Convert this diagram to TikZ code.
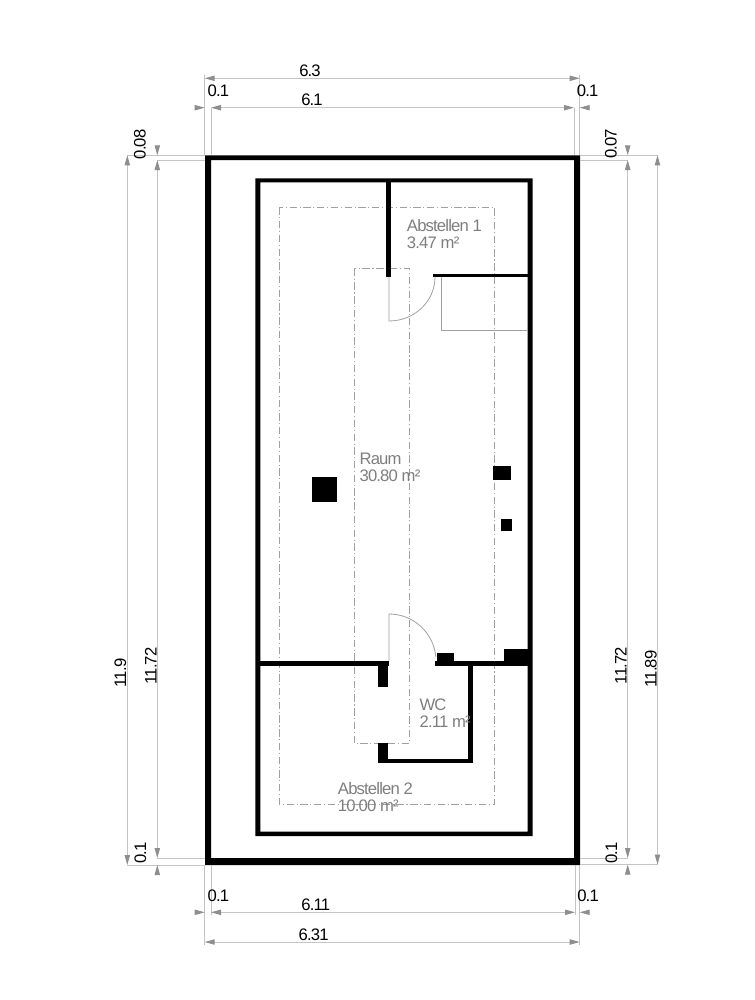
\documentclass[tikz,border=0pt]{standalone}
\usepackage{fontspec}
\setmainfont[LetterSpace=-5]{Liberation Sans}
\usetikzlibrary{arrows.meta}
\definecolor{dimline}{HTML}{C4C4C4}
\definecolor{dimtip}{HTML}{8E8E8E}
\definecolor{planline}{HTML}{A0A0A0}
\definecolor{roomtext}{HTML}{7E7E7E}

\begin{document}
\begin{tikzpicture}[x=0.75pt, y=-0.75pt,
    >={Triangle[length=7.5pt,width=4pt,color=dimtip]}]
\tikzstyle{wall} = [fill=black, even odd rule]
\tikzstyle{thin} = [draw=planline, line width=0.6pt]
\tikzstyle{axis} = [draw=planline, line width=0.5pt,
  dash pattern=on 5.5pt off 2pt on 0.8pt off 2pt]
\tikzstyle{dim} = [draw=dimline, line width=0.7pt]
\tikzstyle{dimlabel} = [inner sep=0pt, anchor=base,
  font=\fontsize{12.5}{14}\selectfont]
\tikzstyle{dimlabelleft} = [dimlabel, anchor=base west]
\tikzstyle{dimlabelup} = [dimlabel, rotate=90]
\tikzstyle{room} = [inner sep=0pt, anchor=north west, align=left,
  text=roomtext, font=\fontsize{12.5}{12.75}\selectfont]

\useasboundingbox (0,0) rectangle (755,1000);

% plan axes
\draw[axis] (279,207.3) rectangle (494.7,804);
\draw[axis] (354.3,268.7) rectangle (409.3,743.3);

% walls
\fill[wall] (205,155.3) rectangle (580,865) (211,160) rectangle (574,858);
\fill[wall] (255.3,178.3) rectangle (532.7,836) (260.3,182.3) rectangle (527.7,831.7);
\fill[wall] (386,182) rectangle (391,276.7);
\fill[wall] (433,273.7) rectangle (528,277);
\fill[wall] (260,661.3) rectangle (388.7,666);
\fill[wall] (435,661.3) rectangle (528,666);
\fill[wall] (436.7,653.3) rectangle (454,666);
\fill[wall] (504,648.7) rectangle (528,666);
\fill[wall] (468,666) rectangle (472.7,762.7);
\fill[wall] (378,759.3) rectangle (472.7,762.7);
\fill[wall] (378,743.3) rectangle (387.7,762.7);
\fill[wall] (378,666) rectangle (388,686.7);

% pillars
\fill[wall] (311.7,476.7) rectangle (337.3,502.3);
\fill[wall] (493,465.7) rectangle (510.7,480.3);
\fill[wall] (500.7,519.3) rectangle (512.3,530.7);

% doors and niche
\draw[thin] (389,277) -- ++(0,44) arc[start angle=-90, end angle=0, x radius=46, y radius=-44];
\draw[thin] (389,661) -- ++(0,-47) arc[start angle=90, end angle=5, x radius=47, y radius=-47];
\draw[thin] (441,277) |- (528,330.3);

% top dimensions
\draw[dim] (204.7,75) -- (204.7,155.3);
\draw[dim] (211,107.7) -- (211,155.3);
\draw[dim] (574,107.7) -- (574,155.3);
\draw[dim] (579.7,75) -- (579.7,155.3);
\draw[dim,<->] (204.7,78.3) -- (579.7,78.3);
\draw[dim] (221,107.7) -- (565,107.7);
\draw[dim,->] (195,107.7) -- (204.7,107.7);
\draw[dim,->] (221,107.7) -- (211,107.7);
\draw[dim,->] (564,107.7) -- (574,107.7);
\draw[dim,->] (590,107.7) -- (579.7,107.7);
\node[dimlabel] (topouter) at (310,76) {6.3};
\node[dimlabel] (topinner) at (312,105.7) {6.1};
\node[dimlabelleft] (topleft) at (207.3,96) {0.1};
\node[dimlabelleft] (topright) at (576.7,96) {0.1};

% bottom dimensions
\draw[dim] (204.7,865) -- (204.7,945);
\draw[dim] (211,865) -- (211,915);
\draw[dim] (575,865) -- (575,915);
\draw[dim] (579.7,865) -- (579.7,945);
\draw[dim,<->] (204.7,942) -- (579.7,942);
\draw[dim] (221,912.3) -- (565,912.3);
\draw[dim,->] (195,912.3) -- (204.7,912.3);
\draw[dim,->] (221,912.3) -- (211,912.3);
\draw[dim,->] (565,912.3) -- (575,912.3);
\draw[dim,->] (590,912.3) -- (579.7,912.3);
\node[dimlabel] (botouter) at (313.7,940) {6.31};
\node[dimlabel] (botinner) at (315.7,910.7) {6.11};
\node[dimlabelleft] (botleft) at (207.3,901.7) {0.1};
\node[dimlabelleft] (botright) at (577,901.7) {0.1};

% left dimensions
\draw[dim] (127.3,155.3) -- (204.7,155.3);
\draw[dim] (157.3,160) -- (204.7,160);
\draw[dim] (157.3,858) -- (204.7,858);
\draw[dim] (127.3,865) -- (204.7,865);
\draw[dim,<->] (127.3,155.3) -- (127.3,865);
\draw[dim,<->] (157.3,160) -- (157.3,858);
\draw[dim,->] (157.3,146) -- (157.3,155.3);
\draw[dim,->] (157.3,874) -- (157.3,865);
\node[dimlabelup] (leftouter) at (126,673) {11.9};
\node[dimlabelup] (leftinner) at (156.5,666) {11.72};
\node[dimlabelup] (lefttop) at (145.7,144.3) {0.08};
\node[dimlabelup] (leftbot) at (146,853) {0.1};

% right dimensions
\draw[dim] (580,155.3) -- (657.5,155.3);
\draw[dim] (580,160) -- (627.7,160);
\draw[dim] (580,858) -- (627.7,858);
\draw[dim] (580,864.5) -- (657.5,864.5);
\draw[dim,<->] (657.5,155.3) -- (657.5,864.5);
\draw[dim,<->] (627.7,160) -- (627.7,858);
\draw[dim,->] (627.7,146) -- (627.7,155.3);
\draw[dim,->] (627.7,874) -- (627.7,864.5);
\node[dimlabelup] (rightouter) at (656.7,669) {11.89};
\node[dimlabelup] (rightinner) at (626.7,665.5) {11.72};
\node[dimlabelup] (righttop) at (616.7,144) {0.07};
\node[dimlabelup] (rightbot) at (617,853) {0.1};

% rooms
\node[room] (abstellen1) at (406.7,219.5) {Abstellen 1\\3.47 m²};
\node[room] (raum) at (359.3,453) {Raum\\30.80 m²};
\node[room] (wc) at (419.3,698.7) {WC\\2.11 m²};
\node[room] (abstellen2) at (337.7,781.8) {Abstellen 2\\10.00 m²};
\end{tikzpicture}
\end{document}
